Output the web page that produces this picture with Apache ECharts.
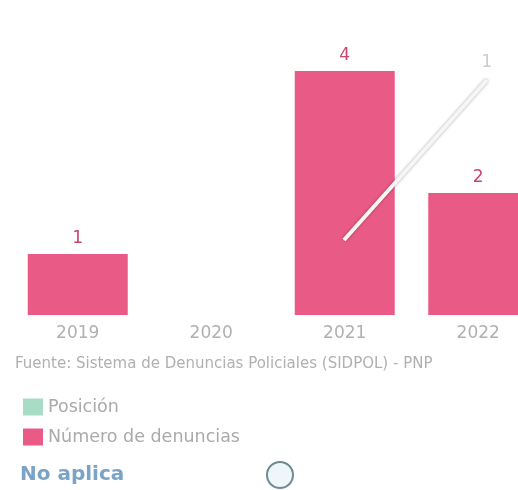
<!DOCTYPE html>
<html>
<head>
<meta charset="utf-8">
<script src="https://cdn.jsdelivr.net/npm/echarts@6/dist/echarts.min.js"></script>
<style>
  html, body { margin: 0; padding: 0; background: #fff; }
  #chart { width: 518px; height: 490px; }
</style>
</head>
<body>
<div id="chart"></div>
<script>
// datos del gráfico
var years = ['2019', '2020', '2021', '2022'];
var denuncias = [1, null, 4, 2];
var posicion = [null, null, 5, 1];
var fuente = 'Fuente: Sistema de Denuncias Policiales (SIDPOL) - PNP';

var font = 'DejaVu Sans';
var myChart = echarts.init(document.getElementById('chart'));

var option = {
    backgroundColor: '#fff',
    animation: false,
    grid: [
        { left: 11, width: 534, top: 10, bottom: 175, outerBoundsMode: 'none', containLabel: false },
        { left: -13.5, width: 572, top: 40, height: 240, outerBoundsMode: 'none', containLabel: false }
    ],
    xAxis: [
        {
            type: 'category', gridIndex: 0, data: years,
            axisLine: { show: false }, axisTick: { show: false },
            axisLabel: { color: '#b0b0b0', fontSize: 17, fontFamily: font, margin: 10 }
        },
        { type: 'category', gridIndex: 1, data: years, show: false }
    ],
    yAxis: [
        { type: 'value', gridIndex: 0, min: 0, max: 5, show: false },
        { type: 'value', gridIndex: 1, min: 0, max: 6, inverse: true, show: false }
    ],
    legend: {
        orient: 'vertical', left: 18, top: 393,
        itemWidth: 20, itemHeight: 17, itemGap: 12,
        textStyle: { color: '#aaa', fontSize: 17.5, fontFamily: font },
        data: [
            { name: 'Posición', icon: 'rect', itemStyle: { color: '#a9dcc6' } },
            { name: 'Número de denuncias', icon: 'rect' }
        ]
    },
    series: [
        {
            name: 'Número de denuncias', type: 'bar',
            xAxisIndex: 0, yAxisIndex: 0,
            data: denuncias, barWidth: 100,
            itemStyle: { color: '#ea5a86' },
            label: {
                show: true, position: 'top', distance: 7,
                color: '#c8486b', fontSize: 17, fontFamily: font
            }
        },
        {
            name: 'Posición', type: 'line',
            xAxisIndex: 1, yAxisIndex: 1,
            data: posicion, symbol: 'circle', symbolSize: 1, showSymbol: true,
            lineStyle: { color: '#f6f6f6', width: 4, shadowColor: 'rgba(0,0,0,0.35)', shadowBlur: 3 },
            itemStyle: { color: '#f0f0f0' },
            label: {
                show: true, position: 'top', distance: 8,
                color: '#cccccc', fontSize: 17, fontFamily: font,
                formatter: function (p) { return p.dataIndex === 3 ? p.value : ''; }
            },
            z: 5
        }
    ],
    graphic: [
        {
            type: 'text', left: 15, top: 357,
            style: { text: fuente, fill: '#b0b0b0', fontSize: 15, fontFamily: font }
        },
        {
            type: 'text', left: 20, top: 465,
            style: { text: 'No aplica', fill: '#7aa3c6', fontSize: 20, fontWeight: 'bold', fontFamily: font }
        },
        {
            type: 'circle', shape: { cx: 280, cy: 475, r: 13 },
            style: { fill: '#eef6f8', stroke: '#6f8a94', lineWidth: 2 }
        }
    ]
};
myChart.setOption(option);
</script>
</body>
</html>
